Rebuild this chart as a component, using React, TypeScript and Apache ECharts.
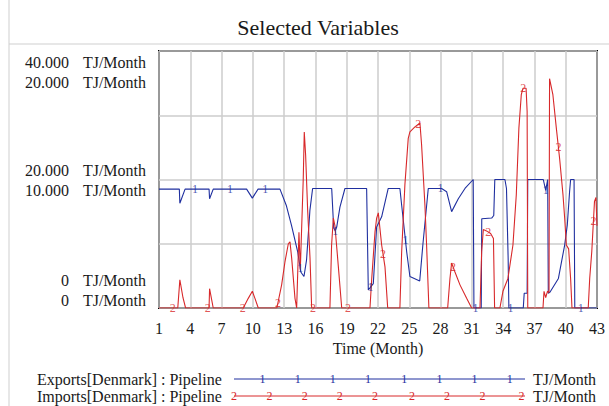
import React, { useEffect, useRef } from 'react';
import * as echarts from 'echarts';

// Exports[Denmark] : Pipeline (TJ/Month) — time in months
const exportsTime = [1, 2.95, 3.0, 3.5, 5.8, 5.85, 6.2, 9.4, 9.95, 10.5, 12.6, 13.2, 13.7, 14.3, 14.6, 14.9, 15.15, 15.47, 15.73, 17.56, 17.75, 17.9, 18.04, 18.35, 18.83, 20.91, 21.07, 21.55, 21.87, 22.35, 22.98, 24.1, 24.27, 24.75, 25.06, 26.0, 26.3, 26.82, 28.1, 28.58, 29.06, 29.7, 30.34, 31.13, 31.2, 31.9, 31.95, 32.9, 33.1, 33.2, 34.17, 34.32, 34.48, 34.55, 35.93, 36.02, 36.3, 36.36, 37.85, 38.08, 38.27, 38.33, 38.5, 39.3, 39.9, 40.15, 40.37, 40.47, 40.8, 40.87, 43];
const exportsValue = [18500, 18500, 16300, 18500, 18500, 17000, 18500, 18500, 17100, 18500, 18500, 16000, 12900, 8750, 5600, 4900, 7500, 15200, 18600, 18600, 12500, 12000, 12600, 15700, 18600, 18600, 2800, 3800, 12600, 14200, 18600, 18600, 16000, 8750, 4900, 4200, 9800, 18600, 18600, 18100, 15000, 17000, 18600, 20000, 0, 0, 13900, 14000, 14400, 20000, 20000, 18600, 7700, 0, 0, 2300, 2300, 20000, 20000, 18300, 20000, 2300, 2500, 4600, 9800, 12900, 18100, 20000, 20000, 0, 0];

// Imports[Denmark] : Pipeline (TJ/Month)
const importsTime = [1, 2.8, 3.0, 3.3, 3.55, 5.8, 5.85, 6.2, 9.08, 9.56, 9.95, 10.2, 10.52, 12.3, 12.76, 13.08, 13.4, 13.56, 13.72, 14.04, 14.2, 14.42, 14.55, 14.83, 14.93, 15.06, 15.26, 15.48, 15.64, 17.39, 17.55, 17.72, 17.87, 18.19, 18.52, 21.23, 21.4, 21.71, 21.87, 22.03, 22.35, 22.67, 22.93, 24.1, 24.27, 24.58, 24.9, 25.06, 25.54, 26.02, 26.18, 26.5, 26.66, 26.88, 28.68, 28.9, 29.06, 29.38, 29.86, 30.5, 30.98, 31.78, 31.94, 32.1, 32.4, 32.8, 33.07, 33.18, 33.69, 33.98, 34.46, 34.94, 35.26, 35.51, 35.74, 35.9, 36.2, 36.3, 36.36, 37.82, 37.92, 38.08, 38.25, 38.4, 38.45, 38.77, 39.1, 39.42, 39.74, 39.9, 40.06, 40.28, 40.47, 40.6, 42.16, 42.3, 42.5, 42.76, 42.9, 43];
const importsValue = [0, 0, 2200, 800, 0, 0, 1500, 0, 0, 750, 1300, 750, 0, 0, 1800, 3600, 5000, 5150, 3900, 750, 0, 5900, 3000, 10000, 13700, 11900, 7500, 3900, 0, 0, 4900, 7000, 6400, 3300, 0, 0, 2300, 5900, 7000, 7400, 4900, 3200, 0, 0, 4400, 9600, 13200, 13700, 14100, 14400, 12700, 8000, 4900, 0, 0, 2300, 3500, 2800, 1800, 750, 0, 0, 4400, 6100, 6000, 5800, 5400, 0, 0, 1300, 2300, 4900, 8800, 14000, 16600, 17100, 17100, 15300, 0, 0, 1300, 800, 1300, 1200, 17850, 16600, 14000, 11600, 8800, 7000, 4900, 4600, 2300, 0, 0, 2300, 4400, 8300, 8600, 6400];

// where Vensim places the "1" / "2" line identifiers (months)
const exportsMarkerTime = [4.45, 7.81, 11.18, 14.54, 17.9, 21.27, 24.63, 27.99, 31.35, 34.71, 38.08, 41.44];
const importsMarkerTime = [2.31, 5.68, 9.03, 12.4, 15.77, 19.12, 22.48, 25.85, 29.2, 32.57, 35.94, 39.3, 42.66];

// axis ranges / ticks
const timeStart = 1;
const timeEnd = 43;
const timeStep = 3;
const exportsAxisMax = 40000;
const importsAxisMax = 20000;

const exportsName = 'Exports[Denmark] : Pipeline';
const importsName = 'Imports[Denmark] : Pipeline';
const unit = 'TJ/Month';
const titleText = 'Selected Variables';
const xName = 'Time (Month)';

const BLUE = '#1f2f9f';
const RED = '#d8282a';
const FONT = 'Liberation Serif';
const TXT = '#1a1a1a';

function interp(ts: number[], vs: number[], t: number) {
  for (let i = 0; i < ts.length - 1; i++) {
    if (t >= ts[i] && t <= ts[i + 1]) {
      const d = ts[i + 1] - ts[i];
      if (d === 0) return vs[i + 1];
      return vs[i] + ((vs[i + 1] - vs[i]) * (t - ts[i])) / d;
    }
  }
  return vs[vs.length - 1];
}

function fmtNum(v: number) {
  return v === 0 ? '0' : (v / 1000).toFixed(3);
}

// vertical offsets (px) of the stacked scale labels, per axis
const exportsShift: Record<number, number> = { 40000: 11, 20000: -9.5, 0: -28 };
const importsShift: Record<number, number> = { 20000: 31, 10000: 11, 0: -8 };

function makeLabel(shifts: Record<number, number>) {
  const rich: any = {
    n: { width: 60, align: 'right', fontSize: 16, fontFamily: FONT, color: TXT, lineHeight: 20 },
    u: { align: 'right', padding: [0, 0, 0, 14], fontSize: 16, fontFamily: FONT, color: TXT, lineHeight: 20 },
  };
  Object.keys(shifts).forEach((k) => {
    const s = shifts[Number(k)];
    rich['sp' + k] = { lineHeight: Math.abs(s) * 2, fontSize: 1, color: 'rgba(0,0,0,0)' };
  });
  const formatter = (v: number) => {
    const s = shifts[v];
    if (s === undefined) return '';
    const main = `{n|${fmtNum(v)}}{u|${unit}}`;
    const sp = `{sp${v}| }`;
    return s >= 0 ? `${sp}\n${main}` : `${main}\n${sp}`;
  };
  return { rich, formatter };
}

export default function App() {
  const ref = useRef<HTMLDivElement>(null);
  useEffect(() => {
    if (!ref.current) return;
    const chart = echarts.init(ref.current, undefined, { renderer: 'svg' });
    const expData = exportsTime.map((t, i) => [t - timeStart, exportsValue[i]]);
    const impData = importsTime.map((t, i) => [t - timeStart, importsValue[i]]);
    const expMarks = exportsMarkerTime.map((t) => [t - timeStart, interp(exportsTime, exportsValue, t)]);
    const impMarks = importsMarkerTime.map((t) => [t - timeStart, interp(importsTime, importsValue, t)]);
    const l0 = makeLabel(exportsShift);
    const l1 = makeLabel(importsShift);

    const legendRows = [
      { y: 379, name: exportsName, color: BLUE, mark: '1', xs: [262.5, 297.7, 332.8, 368, 404.3, 439.5, 474.6, 509.8] },
      { y: 396, name: importsName, color: RED, mark: '2', xs: [234, 269.5, 304.7, 339.8, 375, 412, 447, 482.4, 521.5] },
    ];
    const graphic: any[] = [
      { type: 'line', shape: { x1: 9, y1: 0, x2: 9, y2: 406 }, style: { stroke: '#cfcfcf', lineWidth: 1 } },
      { type: 'line', shape: { x1: 9, y1: 44, x2: 609, y2: 44 }, style: { stroke: '#cfcfcf', lineWidth: 1 } },
      {
        type: 'text', x: 318, y: 27,
        style: { text: titleText, fontSize: 22, fontFamily: FONT, fill: TXT, align: 'center', verticalAlign: 'middle' },
      },
    ];
    legendRows.forEach((r) => {
      graphic.push({
        type: 'text', x: 37, y: r.y,
        style: { text: r.name, fontSize: 16, fontFamily: FONT, fill: TXT, align: 'left', verticalAlign: 'middle' },
      });
      graphic.push({ type: 'line', shape: { x1: 234, y1: r.y, x2: 525, y2: r.y }, style: { stroke: r.color, lineWidth: 1 } });
      r.xs.forEach((x) => {
        graphic.push({
          type: 'text', x, y: r.y,
          style: { text: r.mark, fontSize: 12, fontFamily: FONT, fill: r.color, align: 'center', verticalAlign: 'middle' },
        });
      });
      graphic.push({
        type: 'text', x: 533, y: r.y,
        style: { text: unit, fontSize: 16, fontFamily: FONT, fill: TXT, align: 'left', verticalAlign: 'middle' },
      });
    });

    const markerSeries = (data: number[][], axis: number, text: string, color: string) => ({
      type: 'scatter',
      yAxisIndex: axis,
      data,
      symbolSize: 1,
      itemStyle: { color: 'rgba(0,0,0,0)' },
      silent: true,
      z: 5,
      label: { show: true, position: 'inside', formatter: text, color, fontSize: 12, fontFamily: FONT },
    });

    chart.setOption({
      animation: false,
      backgroundColor: '#ffffff',
      textStyle: { fontFamily: FONT },
      graphic,
      grid: { left: 159, right: 12, top: 51, bottom: 98, show: true, borderColor: '#000', borderWidth: 2, containLabel: false },
      xAxis: {
        type: 'value',
        min: 0,
        max: timeEnd - timeStart,
        interval: timeStep,
        axisLine: { show: false },
        axisTick: { show: false },
        splitLine: { show: true, lineStyle: { color: '#cdcdcd', width: 1.5 } },
        axisLabel: { formatter: (v: number) => String(v + timeStart), fontSize: 16, fontFamily: FONT, color: TXT, margin: 12 },
        name: xName,
        nameLocation: 'middle',
        nameGap: 28,
        nameTextStyle: { fontSize: 16, fontFamily: FONT, color: TXT },
      },
      yAxis: [
        {
          type: 'value', min: 0, max: exportsAxisMax, interval: exportsAxisMax / 4, position: 'left',
          axisLine: { show: false }, axisTick: { show: false },
          splitLine: { show: true, lineStyle: { color: '#cdcdcd', width: 1.5 } },
          axisLabel: { margin: 13, formatter: l0.formatter, rich: l0.rich },
        },
        {
          type: 'value', min: 0, max: importsAxisMax, interval: importsAxisMax / 4, position: 'left',
          axisLine: { show: false }, axisTick: { show: false }, splitLine: { show: false },
          axisLabel: { margin: 13, formatter: l1.formatter, rich: l1.rich },
        },
      ],
      series: [
        { type: 'line', name: exportsName, yAxisIndex: 0, data: expData, showSymbol: false, symbol: 'none', lineStyle: { color: BLUE, width: 1.1 }, itemStyle: { color: BLUE }, z: 3 },
        { type: 'line', name: importsName, yAxisIndex: 1, data: impData, showSymbol: false, symbol: 'none', lineStyle: { color: RED, width: 1.1 }, itemStyle: { color: RED }, z: 4 },
        markerSeries(expMarks, 0, '1', BLUE),
        markerSeries(impMarks, 1, '2', RED),
      ],
    });
    return () => chart.dispose();
  }, []);
  return <div ref={ref} style={{ position: 'fixed', left: 0, top: 0, width: 609, height: 406, background: '#fff' }} />;
}
